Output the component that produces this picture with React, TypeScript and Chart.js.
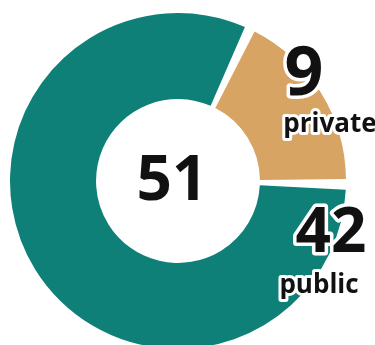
import React, { useEffect, useRef } from "react";
import { Chart, registerables } from "chart.js";

Chart.register(...registerables);

const categories = ["public", "private"];
const values = [42, 9];
const colors = ["#0e8078", "#d8a464"];
const totalLabel = "51";

export default function App() {
  const ref = useRef<HTMLCanvasElement | null>(null);

  useEffect(() => {
    if (!ref.current) return;
    const labelPlugin = {
      id: "labels",
      afterDraw(chart: any) {
        const meta = chart.getDatasetMeta(0);
        const arc = meta.data[0];
        if (!arc) return;
        const cx = arc.x;
        const cy = arc.y;
        const ctx = chart.ctx as CanvasRenderingContext2D;
        const font = "'Open Sans', 'Noto Sans', sans-serif";
        const draw = (t: string, x: number, y: number, size: number, halo: number) => {
          ctx.save();
          ctx.font = `bold ${size}px ${font}`;
          ctx.textAlign = "center";
          ctx.textBaseline = "alphabetic";
          if (halo > 0) {
            ctx.lineJoin = "round";
            ctx.lineWidth = halo;
            ctx.strokeStyle = "#ffffff";
            ctx.strokeText(t, x, y);
          }
          ctx.fillStyle = "#111111";
          ctx.fillText(t, x, y);
          ctx.restore();
        };
        draw(totalLabel, cx - 6, cy + 19, 62, 0);
        draw(String(values[1]), cx + 126, cy - 86, 68, 7);
        draw(categories[1], cx + 152, cy - 49, 26, 6);
        draw(String(values[0]), cx + 153, cy + 71, 62, 7);
        draw(categories[0], cx + 141, cy + 112, 26, 6);
      },
    };
    const chart = new Chart(ref.current, {
      type: "doughnut",
      data: {
        labels: categories,
        datasets: [
          {
            data: values,
            backgroundColor: colors,
            borderWidth: 0,
            spacing: 5,
          },
        ],
      },
      options: {
        animation: false,
        responsive: false,
        rotation: 90,
        cutout: "48%",
        layout: { padding: { left: 10, right: 29, top: 13, bottom: 13 } },
        plugins: { legend: { display: false }, tooltip: { enabled: false } },
      },
      plugins: [labelPlugin],
    });
    return () => chart.destroy();
  }, []);

  return (
    <div style={{ position: "fixed", left: 0, top: 0, width: 375, height: 345, overflow: "hidden", background: "#fff" }}>
      <canvas ref={ref} width={375} height={362} style={{ display: "block" }} />
    </div>
  );
}
